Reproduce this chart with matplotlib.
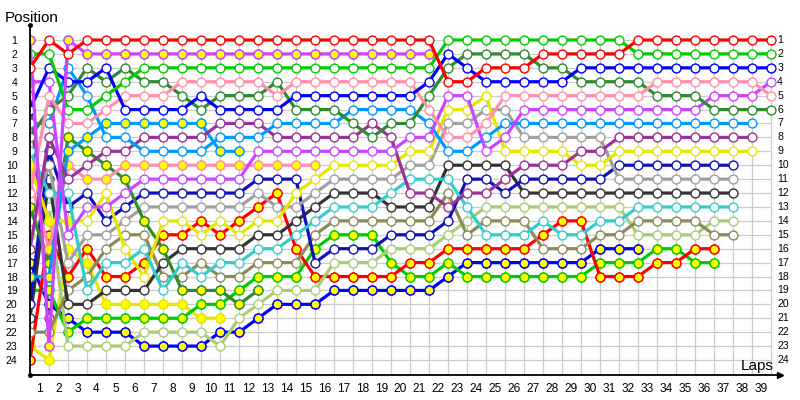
import matplotlib
matplotlib.use('Agg')
import matplotlib.pyplot as plt

# ---------------- data ----------------
laps = list(range(0, 40))
lap_labels = [str(i) for i in range(1, 40)]
positions = list(range(1, 25))

red_a = [3, 1, 2, 1, 1, 1, 1, 1, 1, 1,
         1, 1, 1, 1, 1, 1, 1, 1, 1, 1,
         1, 1, 4, 4, 3, 3, 3, 2, 2, 2,
         2, 2, 1, 1, 1, 1, 1, 1, 1, 1]
green_a = [2, 2, 6, 6, 5, 4, 3, 3, 3, 3,
           3, 3, 3, 3, 3, 3, 3, 3, 3, 3,
           3, 3, 1, 1, 1, 1, 1, 1, 1, 1,
           1, 1, 2, 2, 2, 2, 2, 2, 2, 2]
blue_a = [6, 3, 4, 4, 3, 6, 6, 6, 6, 5,
          6, 6, 6, 6, 5, 5, 5, 5, 5, 5,
          5, 4, 2, 3, 4, 4, 4, 4, 4, 3,
          3, 3, 3, 3, 3, 3, 3, 3, 3, 3]
purple_a = [1, 23, 1, 2, 2, 2, 2, 2, 2, 2,
            2, 2, 2, 2, 2, 2, 2, 2, 2, 2,
            2, 2]
purple_b = [4, 4, 15, 13, 13, 12, 11, 11, 11, 11,
            11, 11, 9, 9, 9, 9, 9, 9, 9, 9,
            8, 8, 5, 5, 9, 8, 6, 6, 6, 6,
            6, 6, 6, 6, 6, 6, 5, 5, 5, 4]
pink_a = [12, 5, 7, 7, 6, 5, 5, 5, 4, 4,
          4, 4, 4, 5, 4, 4, 4, 4, 4, 4,
          4, 6, 8, 8, 7, 5, 5, 5, 5, 5,
          5, 5, 5, 4, 4, 4, 4, 4, 4, 5]
dkgreen_a = [8, 6, 5, 3, 4, 3, 4, 4, 5, 6,
             5, 5, 5, 4, 6, 6, 6, 7, 8, 7,
             7, 5, 3, 2, 2, 2, 2, 3, 3, 4,
             4, 4, 4, 5, 5, 5, 6, 6, 6, 6]
lblue_a = [7, 7, 3, 5, 8, 8, 9, 9, 9, 9,
           8, 8, 8, 7, 7, 7, 7, 6, 6, 6,
           6, 7, 9, 9, 8, 7, 7, 7, 7, 7,
           7, 7, 7, 7, 7, 7, 7, 7, 7]
lblue_b = [18, 18, 9, 8, 7, 7, 7, 7, 7, 7, 9, 9]
dpurple_y = [16, 8, 11, 10, 9, 9, 8, 8, 8, 8,
             7, 7, 7, 8, 8, 8, 8, 8, 7, 8,
             12, 12, 13, 12, 12, 11, 10, 10, 10, 9,
             9, 8, 8, 8, 8, 8, 8, 8, 8]
dpurple_x = [5, 21]
cyan = [9, 12, 12, 19, 17, 17, 16, 19, 17, 18,
        17, 17, 16, 16, 15, 14, 13, 13, 13, 12,
        11, 11, 11, 13, 15, 15, 15, 14, 15, 15,
        14, 14, 13, 13, 13, 13, 13, 13]
yellow_a = [10, 14, 14, 14, 12, 16, 18, 14, 14, 15,
            14, 15, 14, 14, 12, 11, 10, 10, 10, 10,
            9, 9, 6, 6, 5, 9, 9, 9, 9, 10,
            10, 9, 9, 9, 9, 9, 9, 9, 9]
pink_b = [11, 16, 10, 11, 11, 10, 10, 10, 10, 10,
          10, 10, 10, 10, 10, 10]
dkgreen_b = [13, 17, 8, 9, 10, 11, 14, 16, 19, 19,
             19, 20, 19]
gray = [14, 10, 17, 15, 15, 14, 13, 13, 13, 13,
        13, 13, 12, 13, 13, 12, 11, 11, 11, 11,
        10, 10, 7, 7, 6, 6, 8, 8, 8, 8,
        8, 11, 11, 11, 11, 11, 11, 11]
dark_blue = [20, 9, 13, 12, 14, 13, 12, 12, 12, 12,
             12, 12, 11, 11, 11, 17, 16, 16, 16, 15,
             15, 15, 14, 11, 11, 12, 11, 11, 11, 11,
             11, 10, 10, 10, 10, 10, 10, 10]
dark_gray = [21, 11, 20, 20, 19, 19, 19, 17, 16, 16,
             16, 16, 15, 15, 14, 13, 12, 12, 12, 13,
             13, 13, 10, 10, 10, 10, 12, 12, 12, 12,
             12, 12, 12, 12, 12, 12, 12, 12]
olive = [22, 22, 19, 18, 16, 15, 15, 18, 18, 17,
         18, 18, 17, 17, 17, 15, 14, 14, 14, 14,
         14, 14, 12, 15, 14, 14, 14, 16, 16, 16,
         15, 15, 14, 14, 14, 14, 15, 15]
light_olive = [15, 13, 23, 23, 23, 23, 22, 22, 22, 22,
               23, 21, 20, 19, 19, 19, 17, 17, 17, 16,
               16, 16, 15, 14, 13, 13, 13, 13, 13, 13,
               13, 13, 15, 15, 15, 15, 14, 14]
red_b = [24, 15, 18, 16, 18, 18, 17, 15, 15, 14,
         15, 14, 13, 12, 16, 18, 18, 18, 18, 18,
         17, 17, 16, 16, 16, 16, 16, 15, 14, 14,
         18, 18, 18, 17, 17, 16, 16]
green_b = [19, 19, 22, 21, 21, 21, 21, 21, 21, 20,
           20, 19, 18, 18, 18, 16, 15, 15, 15, 17,
           18, 18, 17, 18, 18, 18, 18, 18, 18, 18,
           17, 17, 17, 16, 16, 17, 17]
blue_b = [17, 20, 21, 22, 22, 22, 23, 23, 23, 23,
          22, 22, 21, 20, 20, 20, 19, 19, 19, 19,
          19, 19, 18, 17, 17, 17, 17, 17, 17, 17,
          16, 16, 16]
yellow_b = [23, 24, 16, 17, 20, 20, 20, 20, 20, 21, 21]

# (series, line colour, last lap drawn with a yellow marker; -1 = none)
drivers = [
    (dpurple_x, '#993399', 0),
    (yellow_b, '#e6e600', 99),
    (blue_b, '#0000ff', 99),
    (green_b, '#00cc00', 99),
    (red_b, '#ff0000', 99),
    (light_olive, '#aacc77', -1),
    (olive, '#8b8b55', -1),
    (dark_gray, '#333333', -1),
    (dark_blue, '#1111bb', -1),
    (gray, '#a0a0a0', -1),
    (dkgreen_b, '#2e8b2e', 99),
    (pink_b, '#ff8fab', 99),
    (yellow_a, '#e6e600', 2),
    (cyan, '#33cccc', -1),
    (lblue_b, '#0099ff', 99),
    (dpurple_y, '#993399', -1),
    (lblue_a, '#0099ff', -1),
    (purple_b, '#cc44ff', -1),
    (dkgreen_a, '#2e8b2e', -1),
    (pink_a, '#ff8fab', -1),
    (blue_a, '#0000ff', -1),
    (green_a, '#00cc00', -1),
    (purple_a, '#cc44ff', 99),
    (red_a, '#ff0000', -1),
]

# ---------------- figure ----------------
fig = plt.figure(figsize=(8, 4), dpi=100)
ax = fig.add_axes([30 / 800, 25 / 400, 750 / 800, 350 / 400])
ax.set_xlim(0, 750 / 19)
ax.set_ylim(1 + 335 / 13.913, 1 - 15 / 13.913)

grid_c = '#cccccc'
ax.hlines(positions, laps[0], laps[-1], color=grid_c, lw=0.9, zorder=0)
ax.vlines(laps[1:], positions[0], ax.get_ylim()[0], color=grid_c, lw=0.9, zorder=0)

for i, (pos, col, ylast) in enumerate(drivers):
    xs = laps[:len(pos)]
    z = 2 + i * 0.01
    ax.plot(xs, pos, '-', color=col, lw=2.3, zorder=z, solid_capstyle='round')
    ax.plot(xs, pos, 'o', ms=6.4, mfc='white', mec=col, mew=1.0, zorder=z + 0.005)
    yx = [x for x in xs if x <= ylast]
    yp = pos[:len(yx)]
    if yx:
        ax.plot(yx, yp, 'o', ms=6.4, mfc='#ffff00', mec=col, mew=1.0, zorder=z + 0.006)

for s in ['top', 'right']:
    ax.spines[s].set_visible(False)
for s in ['left', 'bottom']:
    ax.spines[s].set_color('black')
    ax.spines[s].set_linewidth(1.3)
ax.plot(1, 0, marker='>', color='black', ms=5, transform=ax.transAxes, clip_on=False)
ax.plot(0, 1, marker='o', color='black', ms=2.5, transform=ax.transAxes, clip_on=False)
ax.plot(0, 0, marker='o', color='black', ms=2.5, transform=ax.transAxes, clip_on=False)

ax.set_xticks([l - 0.5 for l in laps[1:]])
ax.set_xticklabels(lap_labels, fontsize=8.6, family='Liberation Sans')
ax.set_yticks(positions)
ax.set_yticklabels([str(p) for p in positions], fontsize=7.6, family='Liberation Sans')
ax.tick_params(axis='both', length=0)
ax.tick_params(axis='x', pad=6)
ax.tick_params(axis='y', pad=9)

for p in positions:
    ax.text(laps[-1] + 0.32, p, str(p), fontsize=7.6, family='Liberation Sans',
            va='center', ha='left')

fig.text(5 / 800, 1 - 22 / 400, 'Position', fontsize=11, family='Liberation Sans', va='baseline')
fig.text(741 / 800, 1 - 370 / 400, 'Laps', fontsize=11, family='Liberation Sans', va='baseline')

fig.savefig('out.png', dpi=100)
